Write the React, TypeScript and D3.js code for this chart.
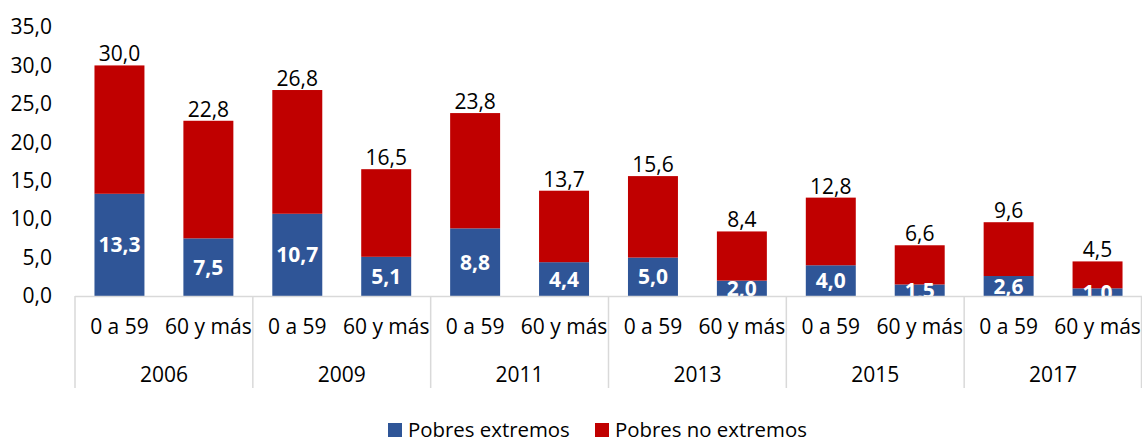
import React from "react";
import * as d3 from "d3";

const years = ["2006", "2009", "2011", "2013", "2015", "2017"];
const ageGroups = ["0 a 59", "60 y más"];
// order: for each year, [0 a 59, 60 y más]
const extremos = [13.3, 7.5, 10.7, 5.1, 8.8, 4.4, 5.0, 2.0, 4.0, 1.5, 2.6, 1.0];
const noExtremos = [16.7, 15.3, 16.1, 11.4, 15.0, 9.3, 10.6, 6.4, 8.8, 5.1, 7.0, 3.5];
const yTicks = [0, 5, 10, 15, 20, 25, 30, 35];
const seriesNames = ["Pobres extremos", "Pobres no extremos"];
const colors = ["#2F5597", "#C00000"];

const W = 1142;
const H = 443;
const left = 75;
const right = 1142;
const y0 = 296;
const yTop = 27;
const FONT = "'Open Sans', 'Noto Sans', sans-serif";

const fmt = (v: number) => v.toFixed(1).replace(".", ",");

export default function App() {
  const x = d3.scaleBand<string>().domain(years).range([left, right]).padding(0);
  const gw = x.bandwidth();
  const inner = d3
    .scaleBand<string>()
    .domain(ageGroups)
    .range([0, gw])
    .paddingInner(0.438)
    .paddingOuter(0.219);
  const y = d3.scaleLinear().domain([0, 35]).range([y0, yTop]);

  const bars = years.flatMap((yr, gi) =>
    ageGroups.map((ag, ai) => {
      const i = gi * 2 + ai;
      const e = extremos[i];
      const n = noExtremos[i];
      return { yr, ag, e, n, total: e + n, x: (x(yr) as number) + (inner(ag) as number) };
    })
  );
  const bw = inner.bandwidth();
  const separators = [...years.map((yr) => x(yr) as number), right - 0.5];

  return (
    <svg
      width={W}
      height={H}
      style={{ position: "absolute", left: 0, top: 0, background: "#fff" }}
      fontFamily={FONT}
    >
      <defs>
        <clipPath id="plotClip">
          <rect x={left} y={0} width={right - left} height={y0} />
        </clipPath>
      </defs>
      {/* y tick labels */}
      {yTicks.map((t) => (
        <text key={t} x={52} y={y(t)} dy="0.35em" textAnchor="end" fontSize={21} fill="#000">
          {fmt(t)}
        </text>
      ))}
      {/* bars */}
      {bars.map((b, i) => (
        <g key={i}>
          <rect x={b.x} y={y(b.e)} width={bw} height={y0 - y(b.e)} fill={colors[0]} />
          <rect x={b.x} y={y(b.total)} width={bw} height={y(b.e) - y(b.total)} fill={colors[1]} />
          <text
            x={b.x + bw / 2}
            y={y(b.total) - 4}
            textAnchor="middle"
            fontSize={21}
            fill="#000"
          >
            {fmt(b.total)}
          </text>
        </g>
      ))}
      <g clipPath="url(#plotClip)">
        {bars.map((b, i) => (
          <text
            key={i}
            x={b.x + bw / 2}
            y={(y(b.e) + y0) / 2}
            dy="0.36em"
            textAnchor="middle"
            fontSize={21}
            fontWeight="bold"
            fill="#fff"
          >
            {fmt(b.e)}
          </text>
        ))}
      </g>
      {/* category axis */}
      <line x1={left} x2={right} y1={y0 + 0.5} y2={y0 + 0.5} stroke="#d9d9d9" strokeWidth={1.5} />
      {separators.map((sx, i) => (
        <line key={i} x1={sx} x2={sx} y1={y0} y2={388} stroke="#d9d9d9" strokeWidth={1.5} />
      ))}
      {bars.map((b, i) => (
        <text key={i} x={b.x + bw / 2} y={327} dy="0.35em" textAnchor="middle" fontSize={21} fill="#000">
          {b.ag}
        </text>
      ))}
      {years.map((yr) => (
        <text key={yr} x={(x(yr) as number) + gw / 2} y={375} dy="0.35em" textAnchor="middle" fontSize={21} fill="#000">
          {yr}
        </text>
      ))}
      {/* legend */}
      <rect x={388} y={423} width={14} height={14} fill={colors[0]} />
      <text x={408} y={437} fontSize={20.4} fill="#000">
        {seriesNames[0]}
      </text>
      <rect x={595} y={423} width={14} height={14} fill={colors[1]} />
      <text x={615} y={437} fontSize={20.4} fill="#000">
        {seriesNames[1]}
      </text>
    </svg>
  );
}
